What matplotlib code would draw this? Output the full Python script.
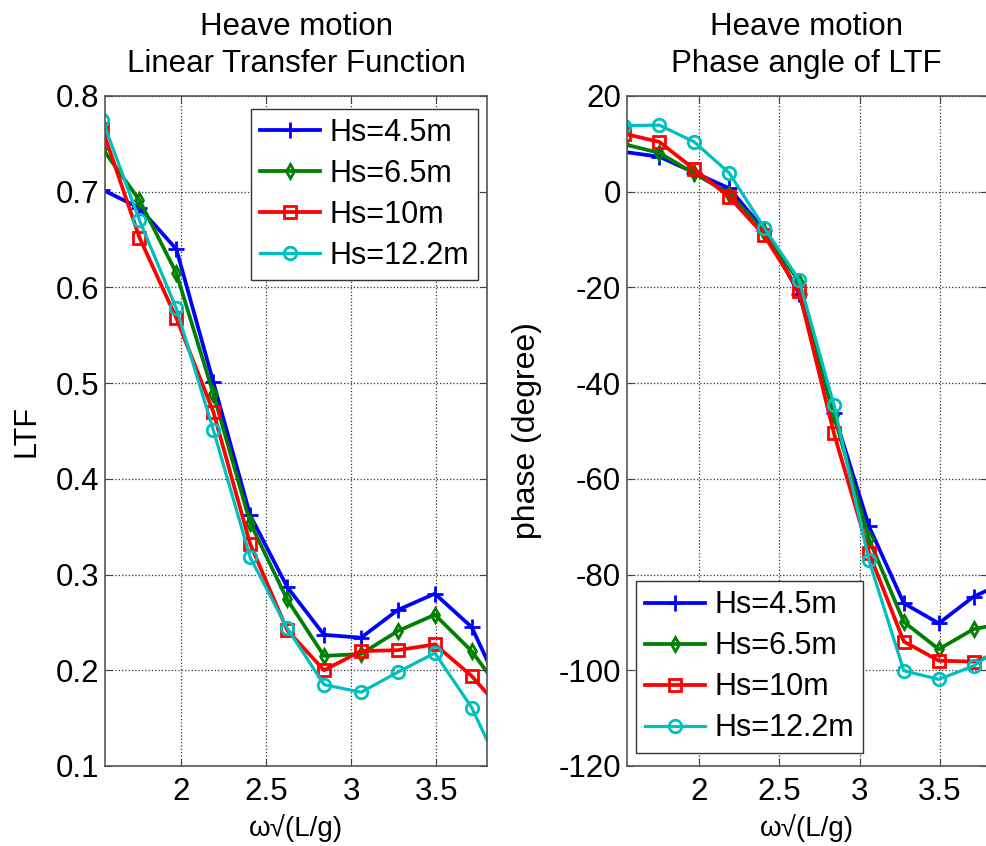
import matplotlib
matplotlib.use("Agg")
import matplotlib.pyplot as plt

plt.rcParams["font.family"] = ["Liberation Sans", "DejaVu Sans"]
plt.rcParams["axes.unicode_minus"] = False

# omega*sqrt(L/g) sample points
x = [1.535, 1.753, 1.97, 2.188, 2.405, 2.623, 2.84, 3.058, 3.275, 3.493, 3.71, 3.928]

labels = ["Hs=4.5m", "Hs=6.5m", "Hs=10m", "Hs=12.2m"]

# LTF (amplitude)
ltf_45 = [0.702, 0.683, 0.640, 0.501, 0.362, 0.287, 0.237, 0.234, 0.263, 0.280, 0.245, 0.162]
ltf_65 = [0.745, 0.691, 0.615, 0.489, 0.354, 0.274, 0.215, 0.217, 0.241, 0.258, 0.220, 0.167]
ltf_10 = [0.765, 0.652, 0.568, 0.470, 0.332, 0.242, 0.200, 0.220, 0.221, 0.227, 0.194, 0.150]
ltf_122 = [0.775, 0.670, 0.578, 0.451, 0.318, 0.244, 0.185, 0.177, 0.198, 0.218, 0.161, 0.079]

# phase (degree)
ph_45 = [8.3, 7.3, 4.0, 0.7, -8.0, -21.3, -46.3, -69.9, -86.0, -90.2, -84.6, -81.3]
ph_65 = [9.9, 8.1, 3.8, -0.4, -8.4, -18.8, -46.7, -72.6, -89.9, -95.6, -91.4, -90.0]
ph_10 = [12.1, 10.4, 4.7, -1.1, -9.1, -20.8, -50.5, -75.4, -94.0, -98.0, -98.2, -95.8]
ph_122 = [13.8, 13.9, 10.4, 3.9, -7.5, -18.4, -44.6, -77.0, -100.1, -101.9, -99.1, -93.9]

COR = ["#0000ff", "#008000", "#ff0000", "#00bfbf"]
MRK = ["+", "d", "s", "o"]
MS = [11, 7, 8, 9]
LW = [2.7, 2.7, 2.7, 2.3]


def estilo(ax):
    ax.grid(True, linestyle=":", color="#333333", lw=0.9)
    ax.tick_params(direction="in", top=True, right=True, labelsize=22.5, length=5, color="#444444")
    ax.tick_params(axis="x", pad=8)
    ax.tick_params(axis="y", pad=4)
    for s in ax.spines.values():
        s.set_color("#555555"); s.set_linewidth(1.2)


def legenda(ax, loc, anchor):
    lg = ax.legend(loc=loc, bbox_to_anchor=anchor, borderaxespad=0, fontsize=22,
                   handlelength=1.95, labelspacing=0.36, borderpad=0.3, handletextpad=0.3,
                   fancybox=False, framealpha=1, edgecolor="#333333")
    lg.get_frame().set_linewidth(1.0)


fig = plt.figure(figsize=(9.87, 8.46), dpi=100)
ax1 = fig.add_axes([0.1064, 0.0946, 0.387, 0.792])
ax2 = fig.add_axes([0.635, 0.0946, 0.3645, 0.792])

for i, ys in enumerate([ltf_45, ltf_65, ltf_10, ltf_122]):
    ax1.plot(x, ys, color=COR[i], marker=MRK[i], ms=MS[i], mew=2, mfc="none",
             lw=LW[i], label=labels[i])
ax1.set_xlim(1.55, 3.8); ax1.set_ylim(0.1, 0.8)
ax1.set_xticks([2, 2.5, 3, 3.5]); ax1.set_xticklabels(["2", "2.5", "3", "3.5"])
ax1.set_yticks([0.1, 0.2, 0.3, 0.4, 0.5, 0.6, 0.7, 0.8])
ax1.set_title("Heave motion\nLinear Transfer Function", fontsize=22.5, pad=17, linespacing=1.3)
ax1.set_ylabel("LTF", fontsize=22, labelpad=10)
ax1.set_xlabel("ω√(L/g)", fontsize=20, labelpad=5)
estilo(ax1)
legenda(ax1, "upper right", (0.976, 0.981))

for i, ys in enumerate([ph_45, ph_65, ph_10, ph_122]):
    ax2.plot(x, ys, color=COR[i], marker=MRK[i], ms=MS[i], mew=2, mfc="none",
             lw=LW[i], label=labels[i])
ax2.set_xlim(1.55, 3.79); ax2.set_ylim(-120, 20)
ax2.set_xticks([2, 2.5, 3, 3.5]); ax2.set_xticklabels(["2", "2.5", "3", "3.5"])
ax2.set_yticks(range(-120, 21, 20))
ax2.set_title("Heave motion\nPhase angle of LTF", fontsize=22.5, pad=17, linespacing=1.3)
ax2.set_ylabel("phase (degree)", fontsize=23, labelpad=12)
ax2.set_xlabel("ω√(L/g)", fontsize=20, labelpad=5)
estilo(ax2)
legenda(ax2, "lower left", (0.026, 0.02))

fig.savefig("out.png", dpi=100)
